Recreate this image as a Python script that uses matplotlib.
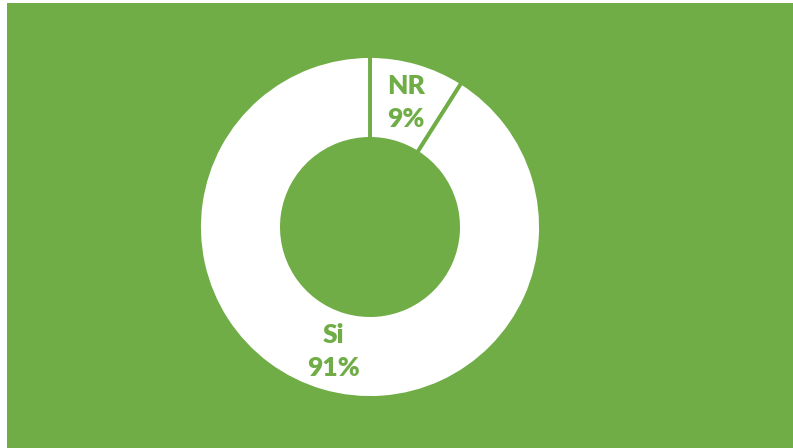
import matplotlib.pyplot as plt
from matplotlib.patches import Rectangle

# datos
categorias = ["NR", "Si"]
porcentajes = [9, 91]

verde = "#70AD47"

fig = plt.figure(figsize=(7.93, 4.48), dpi=100, facecolor="white")

# fondo verde (deja un borde blanco fino a la izquierda y arriba)
fondo = Rectangle((7 / 793, 0), 1 - 7 / 793, 1 - 3 / 448,
                  transform=fig.transFigure, facecolor=verde, edgecolor="none", zorder=-10)
fig.patches.append(fondo)

ax = fig.add_axes([199 / 793, 50 / 448, 342 / 793, 342 / 448])
ax.set_facecolor("none")
ax.set_zorder(5)

etiquetas = [f"{c}\n{p}%" for c, p in zip(categorias, porcentajes)]
wedges, textos = ax.pie(
    porcentajes,
    labels=etiquetas,
    labeldistance=0.76,
    startangle=90,
    counterclock=False,
    colors=["white", "white"],
    wedgeprops=dict(width=0.485, edgecolor=verde, linewidth=2.8),
)
for t in textos:
    t.set_ha("center")
    t.set_va("center")
    t.set_color(verde)
    t.set_fontsize(19)
    t.set_fontweight("heavy")
    t.set_family("Lato")
    t.set_linespacing(1.45)

ax.set_xlim(-1, 1)
ax.set_ylim(-1, 1)
ax.set_aspect("equal")
ax.axis("off")

fig.savefig("out.png", dpi=100, facecolor="white")
